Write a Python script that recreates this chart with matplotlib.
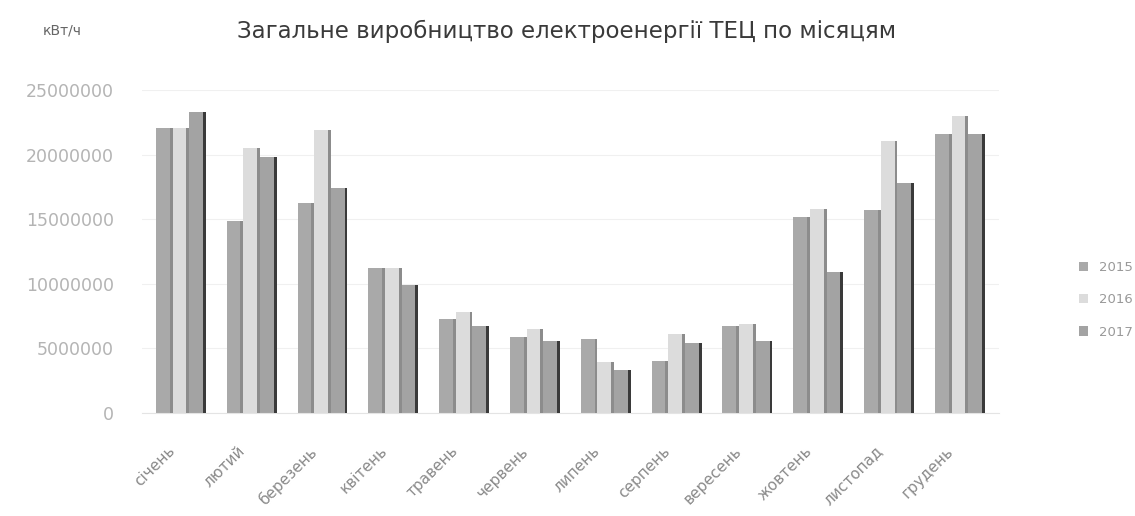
import matplotlib.pyplot as plt
import matplotlib.transforms as mtransforms
import numpy as np

# Monthly CHP electricity output, kWh
months = ["січень", "лютий", "березень", "квітень", "травень", "червень",
          "липень", "серпень", "вересень", "жовтень", "листопад", "грудень"]
years = ["2015", "2016", "2017"]
output_2015 = [22100000, 14900000, 16300000, 11200000, 7300000, 5900000,
               5700000, 4000000, 6700000, 15200000, 15700000, 21600000]
output_2016 = [22100000, 20500000, 21900000, 11200000, 7800000, 6500000,
               3900000, 6100000, 6900000, 15800000, 21100000, 23000000]
output_2017 = [23300000, 19800000, 17400000, 9900000, 6700000, 5600000,
               3300000, 5400000, 5600000, 10900000, 17800000, 21600000]
y_ticks = [0, 5000000, 10000000, 15000000, 20000000, 25000000]

plt.rcParams['font.family'] = ['DejaVu Sans']

fig = plt.figure(figsize=(11.35, 5.16), dpi=100)
ax = fig.add_axes([0.125, 0.2, 0.755, 0.625])

x = np.arange(len(months))
w = 0.235
series = [output_2015, output_2016, output_2017]
faces = ["#a9a9a9", "#dcdcdc", "#a3a3a3"]
for i, (vals, fc) in enumerate(zip(series, faces)):
    pos = x + (i - 1) * w
    ax.bar(pos, vals, width=w, color=fc, edgecolor="none", label=years[i], zorder=2)
    # darker right-hand edge gives the columns a bit of depth
    ax.bar(pos + w / 2 - 0.02, vals, width=0.04,
           color="#3a3a3a" if i == 2 else "#8c8c8c", edgecolor="none", zorder=3)

ax.set_xlim(-0.55, len(months) - 0.45)
ax.set_ylim(0, 25000000)
ax.set_yticks(y_ticks)
ax.set_yticklabels([str(v) for v in y_ticks], color="#b4b4b4", fontsize=12.5)
ax.set_xticks(x)
ax.set_xticklabels(months, rotation=45, ha="right", rotation_mode="anchor",
                   color="#8a8a8a", fontsize=11)
ax.tick_params(axis="y", length=0, pad=20)
ax.tick_params(axis="x", length=0, pad=22)

# nudge month labels a little to the left of the column groups
shift = mtransforms.ScaledTranslation(-0.14, 0, fig.dpi_scale_trans)
for lbl in ax.get_xticklabels():
    lbl.set_transform(lbl.get_transform() + shift)

ax.grid(axis="y", color="#f0f0f0", linewidth=0.8, zorder=0)
for s in ["top", "right", "left"]:
    ax.spines[s].set_visible(False)
ax.spines["bottom"].set_color("#e4e4e4")

fig.text(0.499, 0.94, "Загальне виробництво електроенергії ТЕЦ по місяцям",
         ha="center", va="center", fontsize=16.5, color="#3a3a3a")
fig.text(0.055, 0.94, "кВт/ч", ha="center", va="center", fontsize=10, color="#666666")

handles = ax.containers[0::2]
ax.legend(handles, years, loc="center left", bbox_to_anchor=(1.08, 0.35),
          frameon=False, fontsize=9.5, labelcolor="#999999",
          handlelength=0.7, handleheight=0.7, labelspacing=1.45)

fig.savefig("out.png", dpi=100)
